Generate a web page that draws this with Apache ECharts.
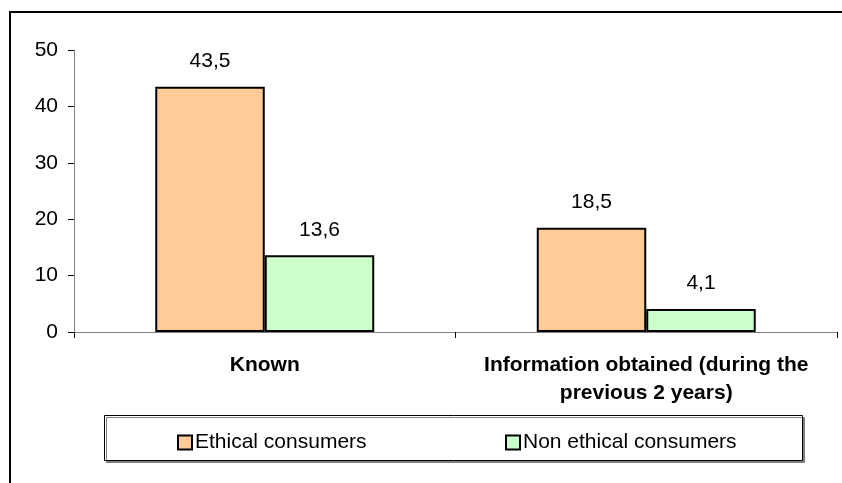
<!DOCTYPE html>
<html>
<head>
<meta charset="utf-8">
<script src="https://cdn.jsdelivr.net/npm/echarts@6/dist/echarts.min.js"></script>
<style>
  html, body { margin: 0; padding: 0; background: #fff; }
  #chart { width: 842px; height: 483px; }
</style>
</head>
<body>
<div id="chart"></div>
<script>
// Awareness shares by consumer group
const categories = ['Known', 'Information obtained (during the\nprevious 2 years)'];
const ethicalValues = [43.5, 18.5];
const nonEthicalValues = [13.6, 4.1];
const seriesNames = ['Ethical consumers', 'Non ethical consumers'];
const yTicks = { min: 0, max: 50, interval: 10 };

const FONT = 'Arial, "Liberation Sans", sans-serif';
const FS = 21;
const commaLabel = p => String(p.value).replace('.', ',');

const chart = echarts.init(document.getElementById('chart'), null, { renderer: 'canvas' });

const barLabel = {
  show: true,
  position: 'top',
  distance: 15,
  color: '#000',
  fontFamily: FONT,
  fontSize: FS,
  formatter: commaLabel
};

const legendCommon = {
  top: 427,
  icon: 'rect', itemWidth: 14, itemHeight: 14, itemGap: 5,
  textStyle: { fontFamily: FONT, fontSize: FS, color: '#000', padding: [0, 0, 0, -2] },
  z: 5
};

chart.setOption({
  animation: false,
  backgroundColor: '#fff',
  textStyle: { fontFamily: FONT },
  graphic: [
    {
      type: 'rect',
      shape: { x: 10, y: 12, width: 1000, height: 1000 },
      style: { fill: 'none', stroke: '#000', lineWidth: 2 },
      silent: true,
      z: 0
    },
    {
      type: 'rect',
      shape: { x: 104.5, y: 415.5, width: 698, height: 45 },
      style: {
        fill: '#fff', stroke: '#000', lineWidth: 1,
        shadowColor: '#808080', shadowOffsetX: 2, shadowOffsetY: 2, shadowBlur: 0
      },
      silent: true,
      z: 1
    }
  ],
  grid: { left: 74, right: 5, top: 50, bottom: 151, containLabel: false },
  legend: [
    Object.assign({ data: [seriesNames[0]], left: 172 }, legendCommon),
    Object.assign({ data: [seriesNames[1]], left: 500 }, legendCommon)
  ],
  xAxis: {
    type: 'category',
    data: categories,
    axisLine: { lineStyle: { color: '#808080', width: 1 } },
    axisTick: { show: true, alignWithLabel: false, length: 6, lineStyle: { color: '#000' } },
    axisLabel: {
      color: '#000', fontFamily: FONT, fontSize: FS, fontWeight: 'bold',
      lineHeight: 28, margin: 19, interval: 0, align: 'center'
    },
    splitLine: { show: false }
  },
  yAxis: {
    type: 'value',
    min: yTicks.min, max: yTicks.max, interval: yTicks.interval,
    axisLine: { show: true, lineStyle: { color: '#808080', width: 1 } },
    axisTick: { show: true, length: 6, lineStyle: { color: '#000' } },
    axisLabel: { color: '#000', fontFamily: FONT, fontSize: FS, margin: 16 },
    splitLine: { show: false }
  },
  series: [
    {
      name: seriesNames[0],
      type: 'bar',
      data: ethicalValues,
      barGap: '0%',
      barCategoryGap: '42.6%',
      itemStyle: { color: '#FFCC99', borderColor: '#000', borderWidth: 2 },
      label: barLabel
    },
    {
      name: seriesNames[1],
      type: 'bar',
      data: nonEthicalValues,
      barGap: '0%',
      barCategoryGap: '42.6%',
      itemStyle: { color: '#CCFFCC', borderColor: '#000', borderWidth: 2 },
      label: barLabel
    }
  ]
});
</script>
</body>
</html>
